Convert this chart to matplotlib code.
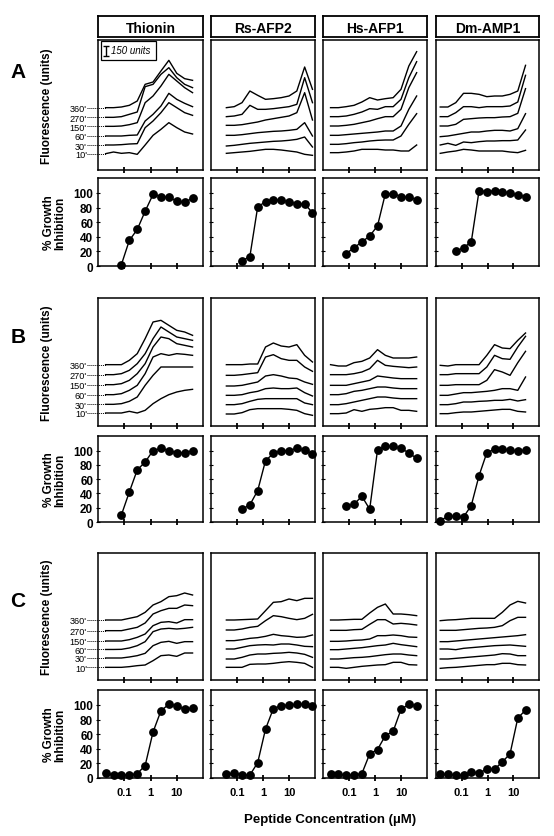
import numpy as np
import matplotlib
matplotlib.use("Agg")
import matplotlib.pyplot as plt
from matplotlib.ticker import LogLocator, NullFormatter, FixedLocator, FixedFormatter
from matplotlib.patches import Rectangle

plt.rcParams['font.family'] = ['Liberation Sans', 'DejaVu Sans']

# ---------------------------------------------------------------------------
# data
# ---------------------------------------------------------------------------
PEPTIDES = ['Thionin', 'Rs-AFP2', 'Hs-AFP1', 'Dm-AMP1']
ROWS = ['A', 'B', 'C']
TIMES = ["360'", "270'", "150'", "60'", "30'", "10'"]

# peptide concentrations (uM), twofold dilution series
CONC_THIONIN = [0.0195, 0.039, 0.078, 0.156, 0.3125, 0.625, 1.25, 2.5, 5, 10, 20, 40]
CONC_RS = [0.039, 0.078, 0.156, 0.3125, 0.625, 1.25, 2.5, 5, 10, 20, 40, 80]
CONC_HS = [0.0195, 0.039, 0.078, 0.156, 0.3125, 0.625, 1.25, 2.5, 5, 10, 20, 40]
CONC_DM = [0.0146, 0.029, 0.0586, 0.117, 0.234, 0.47, 0.94, 1.875, 3.75, 7.5, 15, 30]

nan = np.nan

# % growth inhibition
GROWTH_A_THIONIN = [nan, nan, 2, 35, 50, 75, 98, 95, 94, 89, 87, 93]
GROWTH_A_RS = [nan, nan, 7, 13, 81, 88, 91, 90, 88, 85, 85, 73]
GROWTH_A_HS = [nan, nan, 17, 25, 33, 41, 55, 99, 99, 95, 94, 91]
GROWTH_A_DM = [nan, nan, 20, 25, 33, 103, 102, 103, 102, 100, 97, 95]

GROWTH_B_THIONIN = [nan, nan, 10, 42, 73, 84, 100, 103, 100, 97, 97, 100]
GROWTH_B_RS = [nan, nan, 18, 24, 44, 86, 96, 100, 100, 103, 101, 95]
GROWTH_B_HS = [nan, nan, 22, 25, 36, 18, 101, 106, 106, 103, 97, 89]
GROWTH_B_DM = [2, 8, 8, 7, 23, 65, 97, 102, 102, 101, 99, 101]

GROWTH_C_THIONIN = [7, 4, 4, 4, 6, 17, 63, 92, 101, 99, 94, 96]
GROWTH_C_RS = [5, 7, 4, 4, 21, 67, 95, 99, 100, 101, 101, 99]
GROWTH_C_HS = [6, 5, 4, 4, 6, 33, 39, 58, 64, 94, 101, 99]
GROWTH_C_DM = [5, 5, 4, 4, 8, 7, 12, 12, 22, 33, 82, 93]

# fluorescence (units), curves ordered 360', 270', 150', 60', 30', 10'
FLUO_A_THIONIN = [
    [935, 935, 945, 970, 1035, 1285, 1320, 1485, 1645, 1450, 1370, 1345],
    [790, 790, 800, 835, 870, 1250, 1285, 1435, 1535, 1385, 1285, 1235],
    [655, 655, 660, 680, 710, 1010, 1110, 1260, 1435, 1335, 1235, 1160],
    [510, 510, 510, 520, 525, 735, 835, 960, 1150, 1060, 1000, 950],
    [375, 375, 380, 390, 395, 635, 735, 860, 1010, 935, 860, 820],
    [245, 270, 250, 260, 235, 375, 520, 610, 710, 635, 570, 540],
]
FLUO_A_RS = [
    [935, 950, 1010, 1185, 1120, 1060, 1070, 1085, 1110, 1185, 1545, 1210],
    [800, 810, 835, 970, 910, 910, 920, 935, 950, 985, 1385, 1010],
    [670, 670, 680, 700, 720, 750, 770, 790, 810, 860, 1160, 750],
    [520, 520, 530, 545, 560, 570, 580, 585, 595, 610, 710, 510],
    [360, 370, 385, 400, 410, 420, 430, 435, 445, 460, 495, 345],
    [250, 260, 270, 280, 295, 310, 310, 300, 285, 270, 235, 220],
]
FLUO_A_HS = [
    [935, 935, 950, 970, 1020, 1085, 1050, 1070, 1085, 1210, 1560, 1775],
    [800, 800, 810, 835, 870, 920, 910, 950, 950, 1060, 1385, 1625],
    [660, 660, 670, 685, 710, 735, 770, 800, 800, 910, 1235, 1460],
    [520, 520, 530, 540, 550, 560, 570, 585, 585, 660, 910, 1110],
    [385, 385, 395, 410, 420, 435, 445, 450, 450, 510, 685, 845],
    [260, 260, 270, 285, 310, 310, 310, 300, 300, 285, 285, 375],
]
FLUO_A_DM = [
    [945, 945, 1010, 1150, 1150, 1135, 1100, 1110, 1110, 1135, 1185, 1570],
    [800, 800, 860, 950, 950, 935, 950, 950, 950, 960, 1020, 1420],
    [660, 660, 685, 760, 770, 780, 785, 785, 795, 800, 850, 1220],
    [500, 510, 530, 550, 570, 570, 585, 595, 595, 585, 620, 845],
    [375, 400, 370, 420, 410, 425, 435, 435, 440, 440, 450, 600],
    [250, 270, 285, 310, 300, 285, 285, 285, 285, 270, 260, 295],
]

FLUO_B_THIONIN = [
    [920, 920, 920, 985, 1085, 1310, 1560, 1585, 1510, 1435, 1410, 1360],
    [770, 770, 785, 835, 935, 1085, 1310, 1485, 1410, 1335, 1310, 1285],
    [620, 620, 635, 685, 785, 935, 1185, 1335, 1310, 1235, 1210, 1185],
    [470, 470, 485, 535, 610, 785, 1035, 1085, 1060, 1085, 1075, 1060],
    [325, 325, 335, 370, 435, 610, 760, 885, 885, 885, 885, 885],
    [195, 195, 195, 220, 195, 235, 335, 410, 470, 510, 535, 550],
]
FLUO_B_RS = [
    [920, 920, 920, 930, 930, 1185, 1245, 1200, 1185, 1220, 1060, 960],
    [760, 760, 770, 785, 800, 1035, 1070, 1010, 985, 985, 885, 820],
    [600, 600, 610, 635, 660, 750, 770, 750, 720, 710, 660, 625],
    [460, 460, 470, 500, 520, 560, 570, 560, 560, 570, 500, 450],
    [320, 320, 335, 370, 400, 410, 410, 410, 410, 410, 345, 320],
    [180, 180, 200, 245, 260, 260, 260, 260, 250, 235, 185, 160],
]
FLUO_B_HS = [
    [920, 900, 900, 950, 970, 1020, 1145, 1060, 1020, 1020, 1020, 1035],
    [770, 770, 770, 785, 810, 860, 985, 910, 895, 885, 875, 885],
    [610, 610, 610, 635, 660, 685, 750, 735, 720, 710, 710, 710],
    [470, 470, 485, 520, 535, 560, 585, 585, 570, 560, 560, 560],
    [320, 320, 335, 360, 385, 410, 435, 435, 420, 410, 410, 410],
    [185, 185, 195, 245, 220, 250, 260, 275, 275, 235, 235, 220],
]
FLUO_B_DM = [
    [910, 900, 920, 920, 920, 920, 1060, 1220, 1170, 1160, 1285, 1395],
    [770, 770, 785, 785, 785, 785, 885, 1060, 1010, 1000, 1185, 1345],
    [610, 610, 620, 620, 620, 620, 685, 845, 810, 760, 950, 1120],
    [460, 460, 480, 500, 500, 510, 520, 535, 560, 560, 535, 735],
    [320, 320, 335, 360, 360, 370, 375, 385, 385, 400, 375, 395],
    [185, 185, 200, 210, 210, 220, 230, 240, 250, 250, 220, 210],
]

FLUO_C_THIONIN = [
    [900, 900, 900, 925, 950, 1015, 1125, 1175, 1250, 1265, 1305, 1275],
    [740, 740, 740, 765, 790, 855, 990, 1040, 1075, 1075, 1125, 1115],
    [585, 585, 585, 605, 640, 690, 815, 865, 875, 855, 905, 905],
    [458, 458, 460, 480, 515, 575, 725, 765, 775, 765, 775, 790],
    [330, 330, 330, 345, 365, 400, 515, 565, 580, 550, 575, 575],
    [190, 190, 190, 200, 215, 225, 290, 365, 375, 355, 405, 405],
]
FLUO_C_RS = [
    [900, 900, 905, 910, 915, 1040, 1165, 1175, 1215, 1190, 1225, 1225],
    [750, 750, 765, 790, 805, 890, 965, 950, 925, 905, 925, 985],
    [590, 590, 605, 625, 635, 655, 685, 665, 655, 640, 645, 675],
    [465, 465, 490, 515, 525, 530, 525, 540, 540, 525, 505, 500],
    [315, 315, 340, 375, 390, 390, 400, 405, 415, 405, 385, 340],
    [190, 190, 190, 235, 240, 240, 250, 265, 275, 265, 250, 190],
]
FLUO_C_HS = [
    [900, 900, 905, 910, 910, 1005, 1090, 1140, 990, 990, 980, 965],
    [745, 745, 745, 755, 760, 835, 905, 905, 840, 850, 840, 825],
    [580, 580, 585, 595, 600, 615, 665, 665, 675, 665, 645, 640],
    [455, 455, 465, 475, 485, 500, 515, 525, 550, 530, 515, 500],
    [315, 315, 325, 335, 340, 350, 365, 380, 390, 390, 375, 365],
    [190, 190, 175, 190, 205, 215, 225, 230, 265, 265, 230, 225],
]
FLUO_C_DM = [
    [890, 900, 905, 915, 925, 925, 925, 925, 1015, 1125, 1180, 1155],
    [745, 745, 745, 755, 765, 775, 780, 790, 815, 890, 940, 940],
    [575, 575, 585, 595, 605, 615, 625, 635, 645, 655, 665, 680],
    [465, 465, 455, 475, 485, 495, 505, 515, 520, 525, 515, 505],
    [315, 315, 325, 335, 345, 355, 365, 375, 395, 390, 365, 365],
    [175, 185, 190, 200, 210, 220, 230, 230, 250, 250, 230, 225],
]

CONCS = [CONC_THIONIN, CONC_RS, CONC_HS, CONC_DM]
FLUO = [
    [FLUO_A_THIONIN, FLUO_A_RS, FLUO_A_HS, FLUO_A_DM],
    [FLUO_B_THIONIN, FLUO_B_RS, FLUO_B_HS, FLUO_B_DM],
    [FLUO_C_THIONIN, FLUO_C_RS, FLUO_C_HS, FLUO_C_DM],
]
GROWTH = [
    [GROWTH_A_THIONIN, GROWTH_A_RS, GROWTH_A_HS, GROWTH_A_DM],
    [GROWTH_B_THIONIN, GROWTH_B_RS, GROWTH_B_HS, GROWTH_B_DM],
    [GROWTH_C_THIONIN, GROWTH_C_RS, GROWTH_C_HS, GROWTH_C_DM],
]

# ---------------------------------------------------------------------------
# layout (pixel boxes on a 554 x 837 canvas)
# ---------------------------------------------------------------------------
W, H = 554, 837
COL_X = [(98, 203), (211, 315), (323, 427), (436, 539)]
HEAD_Y = (17, 38)
FLUO_Y = [(41, 171), (299, 427), (554, 681)]
GROW_Y = [(179, 267), (437, 523), (691, 779)]
LETTER_Y = [72, 338, 602]
UNITS_PER_PX = 15.0


def box(x0, x1, y0, y1):
    return [x0 / W, 1 - y1 / H, (x1 - x0) / W, (y1 - y0) / H]


fig = plt.figure(figsize=(W / 100, H / 100), dpi=100)

SPINE_LW = 1.1


def log_xaxis(ax, labels=False):
    ax.set_xscale('log')
    ax.set_xlim(0.01, 100)
    ax.xaxis.set_major_locator(FixedLocator([0.1, 1, 10]))
    ax.xaxis.set_minor_locator(LogLocator(base=10, subs=np.arange(2, 10)))
    ax.xaxis.set_minor_formatter(NullFormatter())
    if labels:
        ax.xaxis.set_major_formatter(FixedFormatter(['0.1', '1', '10']))
    else:
        ax.xaxis.set_major_formatter(NullFormatter())
    ax.tick_params(axis='x', which='major', direction='inout', length=5,
                   width=1.3, labelsize=8, pad=4)
    ax.tick_params(axis='x', which='minor', direction='inout', length=3,
                   width=0.7)
    for lab in ax.get_xticklabels():
        lab.set_fontweight('bold')
    for s in ax.spines.values():
        s.set_linewidth(SPINE_LW)


# column headers
for j, name in enumerate(PEPTIDES):
    hax = fig.add_axes(box(COL_X[j][0], COL_X[j][1], *HEAD_Y))
    hax.set_xticks([])
    hax.set_yticks([])
    for s in hax.spines.values():
        s.set_linewidth(1.3)
    hax.text(0.5, 0.45, name, ha='center', va='center', fontsize=10,
             fontweight='bold', transform=hax.transAxes)

for i, row in enumerate(ROWS):
    fy0, fy1 = FLUO_Y[i]
    gy0, gy1 = GROW_Y[i]
    for j in range(4):
        conc = CONCS[j]
        x0, x1 = COL_X[j]

        # ---- fluorescence panel
        fax = fig.add_axes(box(x0, x1, fy0, fy1))
        log_xaxis(fax)
        fax.set_ylim(0, (fy1 - fy0) * UNITS_PER_PX)
        for curve in FLUO[i][j]:
            fax.plot(conc, curve, color='black', lw=1.0)
        if j == 0:
            starts = [c[0] for c in FLUO[i][j]]
            fax.set_yticks(starts)
            fax.set_yticklabels(TIMES)
            fax.tick_params(axis='y', length=0, pad=8, labelsize=6.6)
            for y0 in starts:
                fax.plot([0.0037, conc[0]], [y0, y0], color='black', lw=0.7,
                         ls=(0, (1, 1)), clip_on=False)
            fax.set_ylabel('Fluorescence (units)', fontsize=8.5,
                           fontweight='bold')
            fax.yaxis.set_label_coords(-0.43, 0.5)
        else:
            fax.set_yticks([])

        # scale bar in the first panel
        if i == 0 and j == 0:
            fax.add_patch(Rectangle((0.027, 0.85), 0.525, 0.145,
                                    transform=fax.transAxes, fill=False,
                                    lw=0.9, clip_on=False))
            fax.errorbar([0.0205], [1785], yerr=[75], color='black',
                         capsize=2.2, lw=1.0, capthick=1.0)
            fax.text(0.12, 0.92, '150 units', transform=fax.transAxes,
                     fontsize=7, fontstyle='italic', va='center', ha='left')

        # ---- growth inhibition panel
        gax = fig.add_axes(box(x0, x1, gy0, gy1))
        log_xaxis(gax, labels=(i == 2))
        gax.set_ylim(0, 120.5)
        gax.plot(conc, GROWTH[i][j], color='black', lw=1.0, marker='o',
                 markersize=5.3, clip_on=False, zorder=5)
        gax.set_yticks([0, 20, 40, 60, 80, 100])
        gax.tick_params(axis='y', direction='inout', length=3, width=0.8,
                        labelsize=8.5, pad=2)
        if j == 0:
            for lab in gax.get_yticklabels():
                lab.set_fontweight('bold')
            gax.set_ylabel('% Growth\nInhibition', fontsize=8.5,
                           fontweight='bold', linespacing=1.0)
            gax.yaxis.set_label_coords(-0.30, 0.5)
        else:
            gax.set_yticklabels([])

    fig.text(18 / W, 1 - LETTER_Y[i] / H, row, fontsize=15, fontweight='bold',
             ha='center', va='center')

fig.text(330 / W, 1 - 820 / H, 'Peptide Concentration (\u00b5M)', fontsize=9.5,
         fontweight='bold', ha='center', va='center')

fig.savefig('out.png', dpi=100)
